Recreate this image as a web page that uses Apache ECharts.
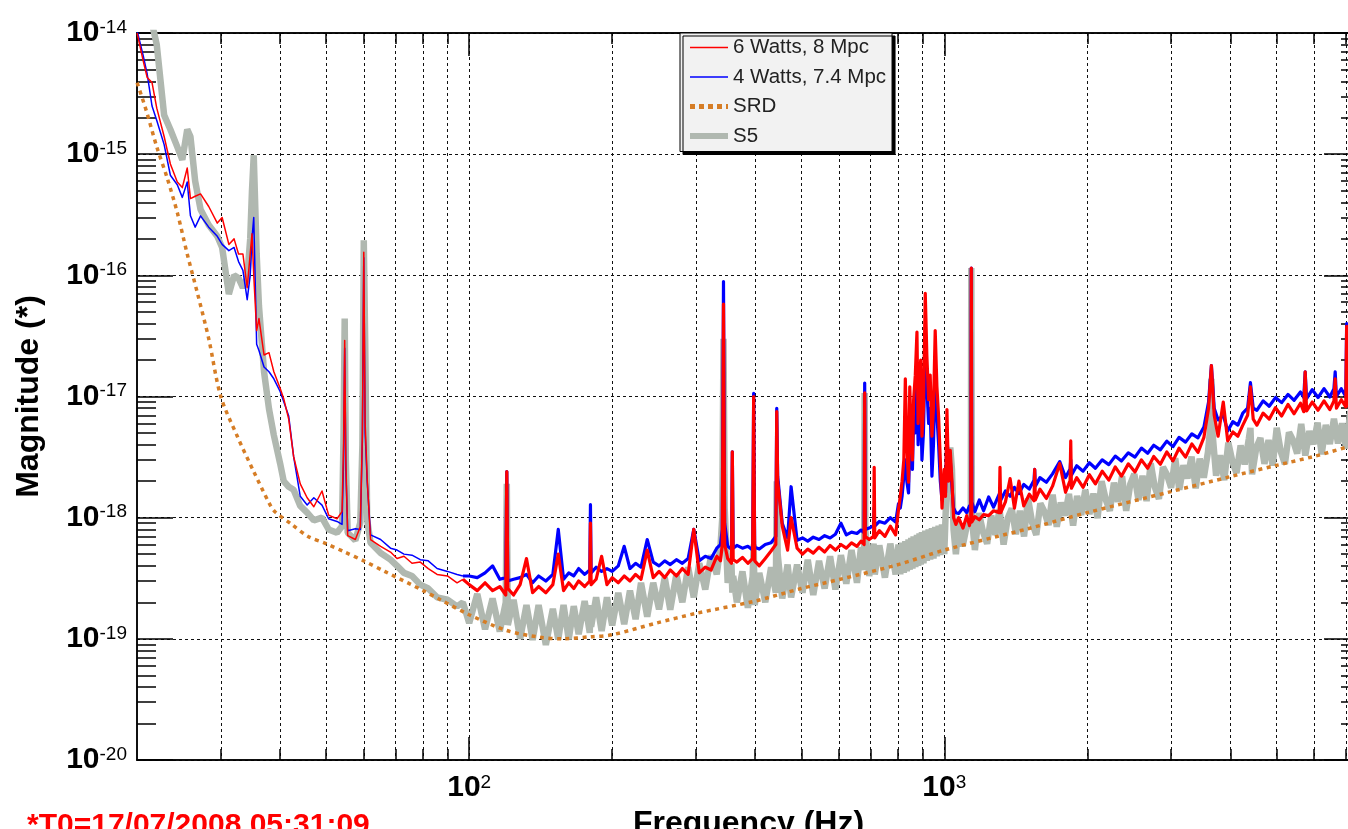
<!DOCTYPE html>
<html><head><meta charset="utf-8">
<script src="https://cdn.jsdelivr.net/npm/echarts@6/dist/echarts.min.js"></script>
<style>html,body{margin:0;padding:0;background:#fff;overflow:hidden}#c{width:1348px;height:829px}</style>
</head><body><div id="c"></div>
<script>
// ---- data (frequency in Hz, magnitude) ----
const freq = [
 20,20.6,21,21.5,22,22.8,23.5,24.3,24.9,25.5, 25.9,26.5,27.2,28.3,29.5,30.2,31.2,32,32.7,33.4,
 34.1,34.6,34.9,35.2,35.7,36.1,37,37.9,38.8,40, 40.7,41.7,42.7,44.1,45.6,47.1,49,50.6,52.7,54,
 54.4,54.7,55,55.5,57.6,59,59.6,60,60.4,61, 62,65.1,68.3,70.5,72.9,75.8,78.9,82,85.6,90, 94.3,97,
 100,104,108,112,116,119.4,120,120.6,124,128, 132,136,140,145,150,154,158,162,166,170,
 175,179.4,180,180.6,185,190,195,200,206,212, 218,224,230,237,244,251,258,265,273,281,
 289,297,305,314,323,332,338,341,343,345, 350,356.5,358,359.5,366,376,386,395,397,399,
 408,420,432,442,444,446,456,468,476,490, 503,516,530,545,560,575,590,606,622,638,
 655,668,678,680,682,695,710,712,714,730, 750,770,790,
 801,808,815,822,828,834,841,846,852,857, 862,869,876,881,887,892,897.5,904,912,919,
 927,934,942,949,957,965,973,981,989,1000, 1006,1013,1021,1029.5,1038,1046,1058,
 1072,1095,1115,1130,1137,1140,1143,1160,1185,1210, 1240,1270,1305,1310,1315,1345,1376,1405,1436,1470,
 1510,1545,1550,1555,1590,1640,1690,1750,1800,1840, 1846,1852,1900,1960,2020,2080,2150,2220,2290,2360,
 2440,2520,2600,2680,2760,2850,2940,3030,3120,3220, 3320,3420,3520,3600,3650,3700,3770,3866,3950,4050,
 4150,4250,4350,4410,4470,4550,4690,4830,4980,5130, 5290,5450,5620,5710,5750,5790,5950,6120,6300,6480,
 6610,6650,6690,6850,7000,7030,7060,7200,7350,7500
];
const red6W = [
 1.0e-14,5.9e-15,4.3e-15,3.9e-15,2.4e-15,1.4e-15,8.3e-16,5.9e-16,5.3e-16,7.7e-16, 4.3e-16,4.5e-16,4.7e-16,3.7e-16,2.7e-16,3.0e-16,1.8e-16,2.0e-16,1.5e-16,1.5e-16,
 7.9e-17,1.5e-16,2.2e-16,1.0e-16,3.5e-17,4.4e-17,2.2e-17,2.3e-17,1.6e-17,1.17e-17, 9.6e-18,6.5e-18,3.2e-18,1.9e-18,1.46e-18,1.23e-18,1.66e-18,1.05e-18,9.8e-19,1.12e-18,
 4e-18,2.9e-17,3e-18,7.1e-19,6.6e-19,8.4e-19,5e-18,1.55e-16,6e-18,2.1e-18, 6.6e-19,5.8e-19,5.2e-19,4.6e-19,4.8e-19,4.2e-19,4.3e-19,3.8e-19,3.4e-19,3.3e-19, 2.9e-19,3.1e-19,
 2.8e-19,2.5e-19,2.9e-19,2.5e-19,2.7e-19,2.3e-19,2.4e-18,2.6e-19,2.3e-19,2.8e-19, 4.6e-19,2.4e-19,2.7e-19,2.4e-19,2.8e-19,5.0e-19,2.5e-19,2.9e-19,2.6e-19,3.0e-19,
 2.7e-19,3.0e-19,9.0e-19,2.8e-19,3.1e-19,4.8e-19,2.8e-19,3.2e-19,2.9e-19,3.3e-19, 3.0e-19,3.4e-19,3.1e-19,5.4e-19,3.2e-19,3.6e-19,3.2e-19,3.7e-19,3.3e-19,3.8e-19,
 3.4e-19,8.0e-19,3.5e-19,3.9e-19,3.7e-19,4.8e-19,4.4e-19,6e-19,5.8e-17,6e-19, 4.6e-19,4.2e-19,3.5e-18,4.5e-19,4.3e-19,4.7e-19,4.2e-19,4.6e-19,1.0e-17,4.4e-19,
 4.0e-19,4.6e-19,5.3e-19,6.0e-19,7.5e-18,2.0e-18,8.5e-19,5.4e-19,1.0e-18,5.6e-19, 5.0e-19,5.5e-19,5.1e-19,5.7e-19,5.2e-19,5.9e-19,5.4e-19,6.0e-19,5.6e-19,6.2e-19,
 5.8e-19,6.4e-19,6.0e-19,1.07e-17,7e-19,6.6e-19,7.0e-19,2.6e-18,6.8e-19,7.8e-19, 7.0e-19,8.5e-19,7.2e-19,
 1.16e-18,1.5e-18,2.0e-18,3.0e-18,1.4e-17,4.0e-18,1.96e-18,1.2e-17,5.0e-18,3.0e-18, 9.4e-18,1.5e-17,3.4e-17,6.0e-18,1.28e-17,2.0e-17,4.7e-18,8.0e-18,7.1e-17,2.2e-17,
 9.4e-18,1.5e-17,4.7e-18,8.0e-18,3.5e-17,1.2e-17,6.8e-18,3.0e-18,1.2e-18,2.5e-18, 1.5e-18,7.8e-18,2.0e-18,3.6e-18,2.0e-18,1.0e-18,8.8e-19,
 1.0e-18,8.2e-19,1.04e-18,8.6e-19,1.0e-18,1.15e-16,9.2e-19,1.02e-18,9.6e-19,1.06e-18, 1.04e-18,1.14e-18,1.1e-18,2.6e-18,1.1e-18,1.35e-18,2.1e-18,1.2e-18,2.0e-18,1.25e-18,
 1.56e-18,1.38e-18,2.5e-18,1.4e-18,1.72e-18,1.44e-18,1.82e-18,2.8e-18,1.62e-18,2.02e-18, 4.3e-18,1.75e-18,2.14e-18,1.78e-18,2.26e-18,1.9e-18,2.42e-18,2.04e-18,2.62e-18,2.2e-18,
 2.78e-18,2.38e-18,3.0e-18,2.56e-18,3.2e-18,2.76e-18,3.48e-18,2.94e-18,3.74e-18,3.16e-18, 4.06e-18,3.46e-18,4.6e-18,8e-18,1.8e-17,7e-18,4.7e-18,9e-18,4.3e-18,5.1e-18,
 4.7e-18,5.8e-18,7e-18,1.2e-17,6.5e-18,5.8e-18,7.3e-18,6.5e-18,8.1e-18,6.9e-18, 8.6e-18,7.2e-18,8.8e-18,7.5e-18,1.6e-17,7.6e-18,9.0e-18,7.7e-18,9.2e-18,7.8e-18,
 9.2e-18,1.4e-17,8.0e-18,9.4e-18,8.2e-18,3.8e-17,8.4e-18,9.6e-18,8.3e-18,9.6e-18
];
const blue4W = [
 1.05e-14,6.5e-15,4.6e-15,2.5e-15,1.9e-15,1.2e-15,6.7e-16,5.6e-16,4.4e-16,5.9e-16, 3.1e-16,2.5e-16,3.1e-16,2.5e-16,2.1e-16,1.8e-16,1.6e-16,1.7e-16,1.3e-16,1.1e-16,
 6.3e-17,1.0e-16,2.0e-16,3.0e-16,2.7e-17,2.4e-17,1.75e-17,1.6e-17,1.4e-17,1.1e-17, 9.1e-18,6.9e-18,3.2e-18,1.5e-18,1.27e-18,1.46e-18,1.27e-18,9.8e-19,9.3e-19,8.8e-19,
 3e-18,2.5e-17,2.5e-18,7.8e-19,8.1e-19,8.0e-19,4.5e-18,1.4e-16,5e-18,2.0e-18, 7.2e-19,6.6e-19,5.6e-19,5.4e-19,5.0e-19,4.9e-19,4.5e-19,4.4e-19,3.8e-19,3.6e-19, 3.4e-19,3.3e-19,
 3.3e-19,3.2e-19,3.5e-19,4.0e-19,3.1e-19,3.2e-19,2.4e-18,3.0e-19,3.1e-19,3.2e-19, 3.4e-19,2.9e-19,3.3e-19,3.0e-19,3.4e-19,8.0e-19,3.1e-19,3.5e-19,3.3e-19,3.8e-19,
 3.4e-19,3.7e-19,1.28e-18,3.5e-19,3.9e-19,3.6e-19,3.8e-19,3.6e-19,4.0e-19,5.8e-19, 3.8e-19,4.2e-19,3.9e-19,6.6e-19,4.3e-19,4.0e-19,4.4e-19,4.1e-19,4.5e-19,4.2e-19,
 4.6e-19,8.0e-19,4.4e-19,4.8e-19,4.6e-19,5.6e-19,6.0e-19,8e-19,8.9e-17,9e-19, 5.8e-19,5.5e-19,3.5e-18,5.6e-19,5.9e-19,5.6e-19,5.8e-19,5.4e-19,1.06e-17,5.7e-19,
 5.5e-19,6.0e-19,6.2e-19,7.0e-19,8e-18,2.2e-18,9e-19,6.8e-19,1.8e-18,6.5e-19, 6.8e-19,6.4e-19,6.9e-19,6.6e-19,7.1e-19,6.8e-19,7.3e-19,9.0e-19,7.2e-19,7.6e-19,
 7.4e-19,7.9e-19,7.5e-19,1.29e-17,8e-19,8.2e-19,8.6e-19,1.2e-18,8.5e-19,9.3e-19, 9.0e-19,1.0e-18,9.2e-19,
 1.3e-18,1.2e-18,1.5e-18,2.2e-18,3.0e-18,2.0e-18,1.6e-18,4.0e-18,3.0e-18,2.5e-18, 6.8e-18,5.0e-18,1.5e-17,4.0e-18,8.0e-18,9.0e-18,3.0e-18,5.0e-18,2.5e-17,1.2e-17,
 6.0e-18,8.0e-18,2.2e-18,4.0e-18,1.5e-17,7.0e-18,4.0e-18,2.0e-18,1.4e-18,2.0e-18, 1.6e-18,5.0e-18,2.4e-18,3.0e-18,1.8e-18,1.2e-18,1.1e-18,
 1.08e-18,1.2e-18,1.1e-18,1.25e-18,1.15e-18,1.15e-16,1.35e-18,1.12e-18,1.4e-18,1.14e-18, 1.48e-18,1.22e-18,1.56e-18,1.6e-18,1.4e-18,1.66e-18,1.5e-18,1.78e-18,1.58e-18,1.88e-18,
 1.72e-18,2.04e-18,2.5e-18,1.82e-18,2.14e-18,1.96e-18,2.3e-18,2.9e-18,2.14e-18,2.52e-18, 3.0e-18,2.24e-18,2.68e-18,2.42e-18,2.84e-18,2.56e-18,3.0e-18,2.74e-18,3.22e-18,2.93e-18,
 3.43e-18,3.16e-18,3.75e-18,3.4e-18,3.96e-18,3.63e-18,4.28e-18,3.86e-18,4.6e-18,4.2e-18, 4.92e-18,4.56e-18,5.6e-18,9e-18,1.8e-17,8e-18,6.4e-18,7e-18,5.2e-18,6.2e-18,
 5.8e-18,7.3e-18,8e-18,1.3e-17,8e-18,7.7e-18,9.2e-18,8.3e-18,9.8e-18,8.9e-18, 1.04e-17,9.3e-18,1.09e-17,9.8e-18,1.6e-17,9.6e-18,1.14e-17,9.8e-18,1.16e-17,9.9e-18,
 1.16e-17,1.6e-17,1.0e-17,1.16e-17,1.0e-17,4e-17,1.18e-17,1.03e-17,1.2e-17,1.03e-17
];
// S5 on the shared grid from 20 Hz to 1058 Hz
const s5 = [
 1.6e-14,1.5e-14,1.4e-14,1.2e-14,8e-15,2.1e-15,1.6e-15,1.15e-15,9e-16,1.6e-15, 1.4e-15,6e-16,3.5e-16,2.6e-16,2.1e-16,1.7e-16,7e-17,1.0e-16,9.5e-17,7.9e-17,
 9.5e-17,2.0e-16,5e-16,9.8e-16,1.5e-16,5.6e-17,1.6e-17,7.9e-18,4.8e-18,2.8e-18, 2.0e-18,1.8e-18,1.7e-18,1.25e-18,1.1e-18,9.5e-19,1.0e-18,8.0e-19,7.5e-19,8.5e-19,
 5e-18,4.4e-17,3e-18,7.5e-19,6.5e-19,9.1e-19,4e-18,1.95e-16,3e-17,9.6e-19, 6.2e-19,5.1e-19,4.5e-19,4.0e-19,3.5e-19,3.3e-19,2.8e-19,2.6e-19,2.2e-19,2.1e-19, 1.85e-19,2.0e-19,
 1.35e-19,2.35e-19,1.2e-19,2.15e-19,1.15e-19,2.0e-19,1.9e-18,1.3e-19,2.1e-19,1.0e-19, 1.9e-19,9.8e-20,1.9e-19,8.9e-20,1.77e-19,9.9e-20,1.9e-19,9.9e-20,1.86e-19,1.09e-19,
 2.05e-19,1.12e-19,1.9e-19,1.26e-19,2.2e-19,1.16e-19,2.2e-19,1.29e-19,2.4e-19,1.32e-19, 2.5e-19,1.45e-19,2.9e-19,1.52e-19,2.9e-19,1.75e-19,3.2e-19,1.74e-19,3.4e-19,2.0e-19,
 3.9e-19,2.2e-19,4.2e-19,2.55e-19,4.9e-19,3.4e-19,5.8e-19,1.0e-18,3.0e-17,1.2e-18, 2.9e-19,4.2e-19,2.4e-19,3.3e-19,2.0e-19,3.6e-19,1.8e-19,3.25e-19,6e-19,1.9e-19,
 3.5e-19,2.0e-19,3.9e-19,2.4e-19,2e-18,5e-19,2.15e-19,4.1e-19,2.2e-19,4.1e-19, 2.4e-19,4.5e-19,2.3e-19,4.4e-19,2.6e-19,4.8e-19,2.55e-19,4.9e-19,2.85e-19,5.4e-19,
 2.9e-19,5.7e-19,3.7e-19,1.07e-17,8e-19,3.3e-19,6.1e-19,4.5e-19,3.4e-19,5.9e-19, 3.2e-19,6.1e-19,3.4e-19,
 6.0e-19,3.4e-19,6.2e-19,3.5e-19,6.4e-19,3.6e-19,6.6e-19,3.7e-19,6.8e-19,3.8e-19, 7.0e-19,3.9e-19,7.2e-19,4.0e-19,7.4e-19,4.1e-19,7.6e-19,4.2e-19,7.8e-19,4.4e-19,
 8.0e-19,4.5e-19,8.2e-19,4.6e-19,8.4e-19,4.8e-19,8.6e-19,4.9e-19,8.8e-19,5.0e-19, 1.0e-18,2.0e-18,1.5e-18,3.8e-18,2.5e-18,8.0e-19,5.0e-19
];
// S5 above 1 kHz, read on a finer frequency grid
const s5HighFreq = [
 1072,1093,1115,1137,1140,1143,1160,1183,1207,1231, 1256,1281,1307,1333,1360,1387,1415,1443,1472,1501,
 1531,1562,1593,1625,1658,1691,1725,1759,1794,1830, 1867,1904,1942,1981,2021,2061,2102,2144,2187,2231,
 2276,2321,2367,2415,2463,2512,2563,2614,2666,2720, 2774,2830,2886,2944,3003,3063,3124,3187,3250,3315,
 3382,3449,3518,3589,3630,3650,3670,3734,3808,3885, 3962,4042,4122,4205,4289,4375,4410,4445,4537,4628,
 4720,4815,4911,5009,5109,5212,5316,5422,5531,5641, 5754,5869,5987,6106,6229,6353,6480,6610,6742,6877,
 7015,7155,7298,7444,7500
];
const s5High = [
 9.2e-19,5.8e-19,8.5e-19,1.0e-18,1.15e-16,1.0e-18,5.4e-19,1.09e-18,7.6e-19,6.1e-19,
 1.04e-18,7.2e-19,1.17e-18,6.0e-19,9.9e-19,1.19e-18,7.3e-19,1.14e-18,7.0e-19,1.44e-18,
 9.1e-19,7.2e-19,1.31e-18,1.12e-18,8.7e-19,1.55e-18,8.4e-19,1.33e-18,1.04e-18,1.57e-18,
 8.6e-19,1.51e-18,1.05e-18,1.7e-18,1.07e-18,1.58e-18,9.9e-19,2.0e-18,1.41e-18,1.14e-18,
 1.94e-18,1.35e-18,2.2e-18,1.14e-18,1.89e-18,2.29e-18,1.4e-18,2.22e-18,1.37e-18,2.81e-18,
 1.79e-18,1.43e-18,2.61e-18,2.26e-18,1.76e-18,3.1e-18,1.7e-18,2.7e-18,2.11e-18,3.19e-18,
 1.75e-18,3.07e-18,2.14e-18,3.47e-18,5.5e-18,1.4e-17,5.0e-18,2.22e-18,3.27e-18,2.04e-18,
 4.16e-18,2.88e-18,2.33e-18,3.95e-18,2.75e-18,4.46e-18,5.5e-18,2.28e-18,3.77e-18,4.55e-18,
 2.78e-18,4.38e-18,2.69e-18,5.51e-18,3.5e-18,2.78e-18,5.06e-18,4.35e-18,3.38e-18,5.95e-18,
 3.26e-18,5.18e-18,4.04e-18,6.08e-18,3.33e-18,5.82e-18,4.05e-18,6.54e-18,4.1e-18,6.0e-18,
 3.72e-18,7.56e-18,5.22e-18,4.19e-18,7.0e-18
];
const srdFreq = [20,20.9,22,23.1,24.3,25.5,26.8,28.3,30,32.5, 35.2,38,39,42.3,45.8,50,54.7,60,66.4,80,
 87,100,120,141,158,180,200,248,300,396, 500,604,800,1000,1500,2000,3000,4000,5000,6000, 7000,7500];
const srd = [3.9e-15,2.3e-15,1.15e-15,6.5e-16,3.3e-16,1.5e-16,7.1e-17,3.0e-17,1.0e-17,4.7e-18,
 2.4e-18,1.3e-18,1.12e-18,8.8e-19,7.0e-19,6.1e-19,5.2e-19,4.4e-19,3.6e-19,2.5e-19,
 2.1e-19,1.58e-19,1.17e-19,1.03e-19,1.0e-19,1.04e-19,1.08e-19,1.35e-19,1.62e-19,2.03e-19,
 2.6e-19,3.1e-19,4.1e-19,5.4e-19,8.1e-19,1.1e-18,1.64e-18,2.18e-18,2.7e-18,3.2e-18, 3.8e-18,4.1e-18];

// ---- ticks ----
const xTickValues = [30,40,50,60,70,80,90,100,200,300,400,500,600,700,800,900,1000,2000,3000,4000,5000,6000,7000];
const xLabelValues = [100,1000];
const yDecadeExponents = [-20,-19,-18,-17,-16,-15,-14];
const yMinorMantissas = [2,3,4,5,6,7,8,9];
const yMajorValues = yDecadeExponents.map(e => Number('1e' + e));
const yMinorValues = [];
yDecadeExponents.slice(0, -1).forEach(e => yMinorMantissas.forEach(m => yMinorValues.push(Number(m + 'e' + e))));

const legendNames = ['6 Watts, 8 Mpc', '4 Watts, 7.4 Mpc', 'SRD', 'S5'];
const timestamp = '*T0=17/07/2008 05:31:09';
const SPLIT = 61; // index of 97 Hz: thin low-frequency part / noisy high-frequency part

const FONT = '"Liberation Sans", Arial, sans-serif';
const pairs = (xs, ys) => xs.map((x, i) => [x, ys[i]]);
const expLabel = v => '{b|10}{s|' + Math.round(Math.log10(v)) + '}';
const richLabel = {
  b: {fontFamily: FONT, fontSize: 30, fontWeight: 'bold', color: '#000', lineHeight: 30, verticalAlign: 'bottom'},
  s: {fontFamily: FONT, fontSize: 19, color: '#000', lineHeight: 19, verticalAlign: 'top'}
};
const axLine = {show: true, lineStyle: {color: '#000', width: 1.5}};
const dotted = {color: '#111', width: 1, type: [3, 3]};

function xAx(pos, ticks, len, extra) {
  return Object.assign({
    type: 'log', logBase: 10, min: 19.99, max: 7500, position: pos, offset: 0,
    axisLine: axLine,
    axisTick: {show: true, inside: true, length: len, customValues: ticks, lineStyle: {color: '#000', width: 1.5}},
    axisLabel: {show: false}, splitLine: {show: false}, minorTick: {show: false}, minorSplitLine: {show: false}
  }, extra || {});
}
function yAx(pos, ticks, len, extra) {
  return Object.assign({
    type: 'log', logBase: 10, min: 0.999e-20, max: 1.001e-14, position: pos, offset: 0,
    axisLine: axLine,
    axisTick: {show: true, inside: true, length: len, customValues: ticks, lineStyle: {color: '#000', width: 1.5}},
    axisLabel: {show: false}, splitLine: {show: false}, minorTick: {show: false}, minorSplitLine: {show: false}
  }, extra || {});
}
function lineSeries(name, data, color, width, z, extra) {
  return Object.assign({
    name: name, type: 'line', xAxisIndex: 0, yAxisIndex: 0, data: data,
    showSymbol: false, symbol: 'none', silent: true, z: z,
    itemStyle: {color: color},
    lineStyle: {color: color, width: width, join: 'round'}
  }, extra || {});
}

const s5Data = pairs(freq.slice(0, s5.length), s5).concat(pairs(s5HighFreq, s5High));

const chart = echarts.init(document.getElementById('c'), null, {renderer: 'canvas'});
chart.setOption({
  animation: false,
  backgroundColor: '#fff',
  title: {text: timestamp, left: 27, top: 811, padding: 0,
    textStyle: {fontFamily: FONT, fontSize: 30, fontWeight: 'bold', color: '#ff0000', lineHeight: 30}},
  grid: {left: 137, top: 33, width: 1223, height: 727, containLabel: false, outerBoundsMode: 'none'},
  legend: {
    orient: 'vertical', left: 680, top: 33, selectedMode: false,
    data: [
      {name: legendNames[0], lineStyle: {width: 1.5}},
      {name: legendNames[1], lineStyle: {width: 1.5}},
      {name: legendNames[2], lineStyle: {width: 5, type: [5, 4]}},
      {name: legendNames[3], lineStyle: {width: 6}}
    ],
    itemStyle: {color: 'rgba(0,0,0,0)', borderWidth: 0, opacity: 0},
    itemWidth: 38, itemHeight: 14, itemGap: 8.5,
    backgroundColor: '#f2f2f2', borderColor: '#000', borderWidth: 1,
    shadowColor: '#000', shadowOffsetX: 3, shadowOffsetY: 3, shadowBlur: 0,
    padding: [4, 6, 5, 7],
    textStyle: {fontFamily: FONT, fontSize: 20.5, color: '#222', lineHeight: 20}
  },
  xAxis: [
    xAx('bottom', xTickValues, 11, {splitLine: {show: true, lineStyle: dotted}}),
    xAx('bottom', xLabelValues, 23, {
      axisLabel: {show: true, customValues: xLabelValues, margin: 13, formatter: expLabel, rich: richLabel},
      name: 'Frequency (Hz)', nameLocation: 'middle', nameGap: 40,
      nameTextStyle: {fontFamily: FONT, fontSize: 32, fontWeight: 'bold', color: '#000', lineHeight: 32}
    }),
    xAx('top', xTickValues, 11),
    xAx('top', xLabelValues, 23)
  ],
  yAxis: [
    yAx('left', yMinorValues, 19),
    yAx('left', yMajorValues, 36, {
      splitLine: {show: true, lineStyle: dotted},
      axisLabel: {show: true, customValues: yMajorValues, margin: 10, formatter: expLabel, rich: richLabel},
      name: 'Magnitude (*)', nameLocation: 'middle', nameGap: 92, nameRotate: 90,
      nameTextStyle: {fontFamily: FONT, fontSize: 32, fontWeight: 'bold', color: '#000', lineHeight: 32}
    }),
    yAx('right', yMinorValues, 19),
    yAx('right', yMajorValues, 36)
  ],
  series: [
    lineSeries('S5', s5Data, '#b0b8b0', 6.5, 2, {lineStyle: {color: '#b0b8b0', width: 6.5, join: 'bevel'}}),
    lineSeries('SRD', pairs(srdFreq, srd), '#d67d25', 3.5, 3, {smooth: 0.3, lineStyle: {color: '#d67d25', width: 3.5, type: [4, 4.5]}}),
    // thin low-frequency part and noisy (thicker-looking) high-frequency part of each measured spectrum
    lineSeries('4 Watts, 7.4 Mpc', pairs(freq.slice(0, SPLIT + 1), blue4W.slice(0, SPLIT + 1)), '#0000ff', 1.5, 4),
    lineSeries('4 Watts, 7.4 Mpc', pairs(freq.slice(SPLIT), blue4W.slice(SPLIT)), '#0000ff', 3.2, 4),
    lineSeries('6 Watts, 8 Mpc', pairs(freq.slice(0, SPLIT + 1), red6W.slice(0, SPLIT + 1)), '#ff0000', 1.5, 5),
    lineSeries('6 Watts, 8 Mpc', pairs(freq.slice(SPLIT), red6W.slice(SPLIT)), '#ff0000', 3.2, 5)
  ]
});
</script></body></html>
